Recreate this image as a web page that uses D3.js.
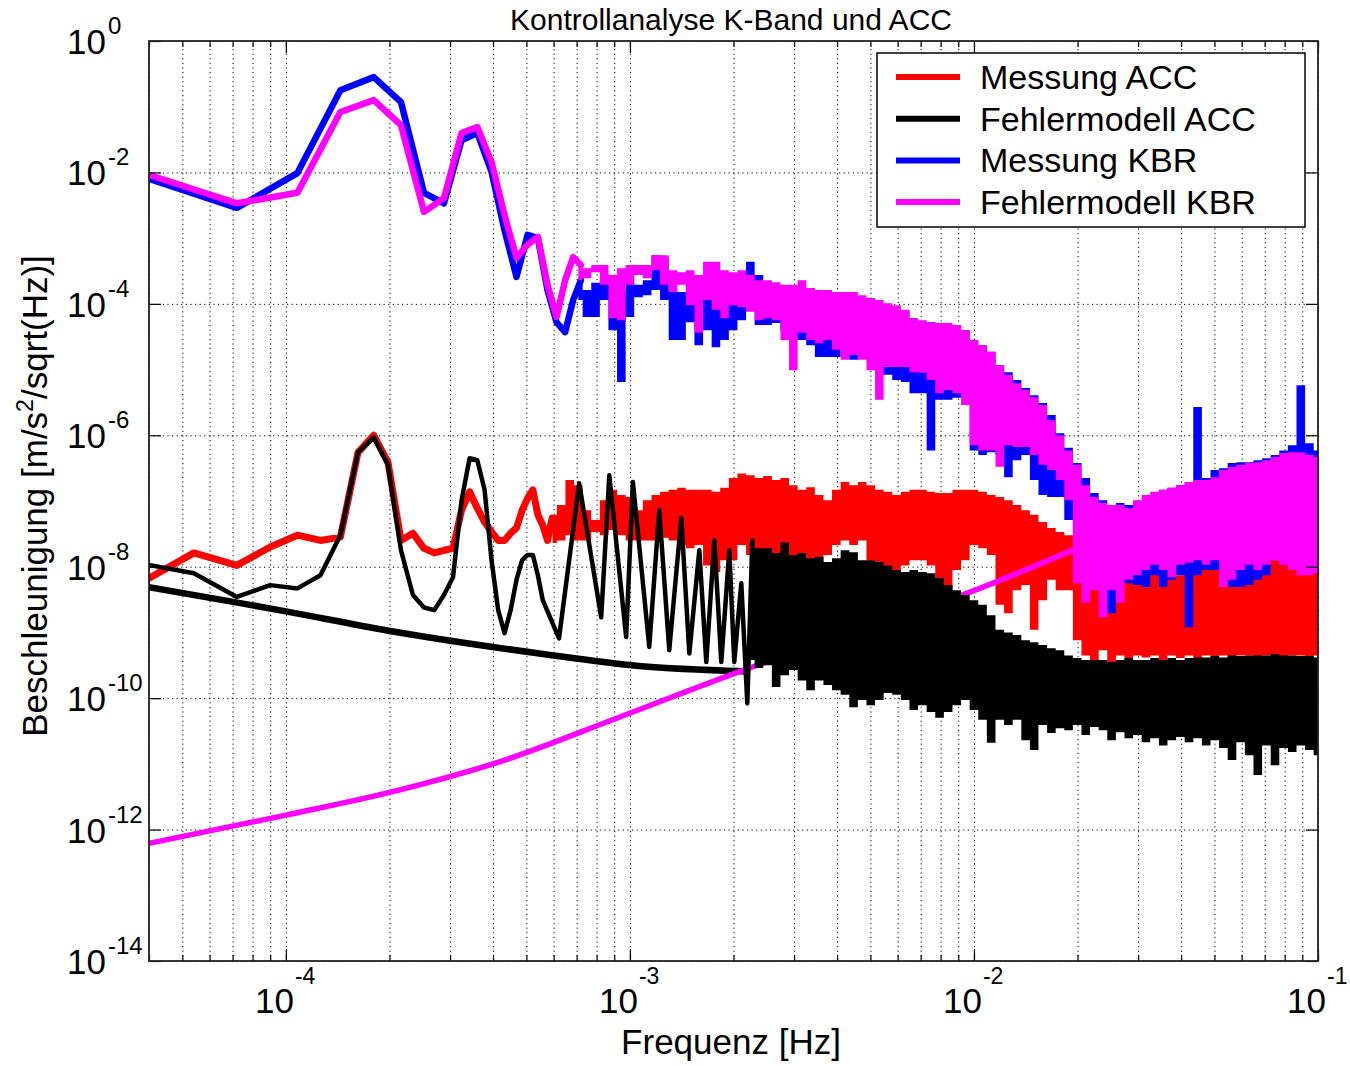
<!DOCTYPE html>
<html>
<head>
<meta charset="utf-8">
<script src="https://cdn.jsdelivr.net/npm/d3@7"></script>
<style>
  body { margin: 0; background: #fff; }
  text { font-family: "Liberation Sans", Arial, Helvetica, sans-serif; }
</style>
</head>
<body>
<svg id="chart"></svg>
<script>
// ---- data (values are log10 of acceleration in m/s^2/sqrt(Hz)) ----

// ACC frequency grid at low frequencies [Hz]
const accFreqLow = [3.6e-5, 5.4e-5, 7.2e-5, 9.0e-5, 1.08e-4, 1.26e-4, 1.44e-4, 1.62e-4, 1.80e-4, 1.98e-4,
  2.16e-4, 2.34e-4, 2.52e-4, 2.70e-4, 2.88e-4, 3.06e-4, 3.24e-4, 3.42e-4, 3.60e-4, 3.78e-4,
  3.96e-4, 4.14e-4, 4.32e-4, 4.50e-4, 4.68e-4, 4.86e-4, 5.04e-4, 5.22e-4, 5.40e-4, 5.58e-4,
  5.76e-4, 5.94e-4];
// Messung ACC, low frequencies
const accMeasLow = [-8.31, -7.79, -7.98, -7.70, -7.52, -7.60, -7.55, -6.26, -6.00, -6.41,
  -7.60, -7.49, -7.72, -7.79, -7.75, -7.72, -7.14, -6.86, -7.11, -7.32,
  -7.47, -7.60, -7.60, -7.49, -7.41, -7.14, -6.96, -6.83, -7.21, -7.37,
  -7.60, -7.26];

// Fehlermodell ACC, low frequencies (grid, then peaks and troughs)
const accModelFreqLow = [3.6e-5, 5.4e-5, 7.2e-5, 9.0e-5, 1.08e-4, 1.26e-4, 1.44e-4, 1.62e-4, 1.80e-4, 1.98e-4,
  2.16e-4, 2.34e-4, 2.52e-4, 2.70e-4, 2.88e-4, 3.06e-4, 3.24e-4, 3.42e-4, 3.60e-4, 3.78e-4,
  3.96e-4, 4.14e-4, 4.32e-4, 4.50e-4, 4.68e-4, 4.86e-4, 5.04e-4, 5.22e-4, 5.40e-4, 5.58e-4,
  6.22e-4, 7.12e-4, 8.25e-4, 8.71e-4, 9.75e-4, 1.02e-3, 1.138e-3, 1.217e-3, 1.301e-3, 1.41e-3,
  1.488e-3, 1.591e-3, 1.667e-3, 1.759e-3, 1.843e-3, 1.945e-3, 2.01e-3, 2.107e-3, 2.194e-3, 2.268e-3];
const accModelLow = [-7.93, -8.10, -8.46, -8.28, -8.33, -8.13, -7.52, -6.26, -6.03, -6.45,
  -7.75, -8.43, -8.62, -8.66, -8.43, -8.16, -6.99, -6.35, -6.38, -6.83,
  -7.90, -8.66, -9.01, -8.66, -8.20, -7.90, -7.82, -7.82, -8.13, -8.51,
  -9.09, -6.73, -8.77, -6.61, -9.07, -6.71, -9.22, -7.14, -9.27, -7.26,
  -9.32, -7.75, -9.45, -7.60, -9.45, -7.75, -9.45, -8.25, -10.08, -7.60];

// ACC noise model (smooth black curve)
const accNoiseFreq = [4e-5, 7.3e-5, 1e-4, 1.97e-4, 5.45e-4, 1.06e-3, 2.15e-3];
const accNoise = [-8.31, -8.55, -8.68, -8.97, -9.32, -9.51, -9.59];

// KBR frequency grid at low frequencies [Hz]
const kbrFreqLow = [3.6e-5, 7.2e-5, 1.08e-4, 1.44e-4, 1.8e-4, 2.16e-4, 2.52e-4, 2.88e-4, 3.24e-4, 3.6e-4,
  3.96e-4, 4.32e-4, 4.68e-4, 5.04e-4, 5.4e-4, 5.76e-4, 6.12e-4, 6.48e-4, 6.84e-4, 7.2e-4];
const kbrMeasLow = [-2.02, -2.54, -2.01, -0.75, -0.55, -0.93, -2.31, -2.47, -1.51, -1.40,
  -1.99, -2.88, -3.59, -2.95, -3.00, -3.79, -4.28, -4.43, -3.94, -3.64];
const kbrModelLow = [-1.96, -2.47, -2.31, -1.08, -0.90, -1.28, -2.60, -2.39, -1.40, -1.31,
  -1.84, -2.65, -3.30, -3.10, -2.98, -3.71, -4.20, -3.64, -3.29, -3.41];

// KBR noise model (smooth magenta curve)
const kbrNoiseFreq = [4e-5, 1e-4, 2.13e-4, 4.17e-4, 9.31e-4, 2.15e-3, 4.97e-3, 9.7e-3, 1.99e-2];
const kbrNoise = [-12.21, -11.78, -11.40, -10.97, -10.29, -9.57, -8.92, -8.39, -7.72];

// dense part: frequency bins [Hz] with max / min of each series in the bin
const bandFreq = [
  5.623e-4, 5.957e-4, 6.310e-4, 6.683e-4, 7.079e-4, 7.499e-4, 7.943e-4, 8.414e-4, 8.913e-4, 9.441e-4,
  1.000e-3, 1.059e-3, 1.122e-3, 1.189e-3, 1.259e-3, 1.334e-3, 1.413e-3, 1.496e-3, 1.585e-3, 1.679e-3,
  1.778e-3, 1.884e-3, 1.995e-3, 2.113e-3, 2.239e-3, 2.371e-3, 2.512e-3, 2.661e-3, 2.818e-3, 2.985e-3,
  3.162e-3, 3.350e-3, 3.548e-3, 3.758e-3, 3.981e-3, 4.217e-3, 4.467e-3, 4.732e-3, 5.012e-3, 5.309e-3,
  5.623e-3, 5.957e-3, 6.310e-3, 6.683e-3, 7.079e-3, 7.499e-3, 7.943e-3, 8.414e-3, 8.913e-3, 9.441e-3,
  1.000e-2, 1.059e-2, 1.122e-2, 1.189e-2, 1.259e-2, 1.334e-2, 1.413e-2, 1.496e-2, 1.585e-2, 1.679e-2,
  1.778e-2, 1.884e-2, 1.995e-2, 2.113e-2, 2.239e-2, 2.371e-2, 2.512e-2, 2.661e-2, 2.818e-2, 2.985e-2,
  3.162e-2, 3.350e-2, 3.548e-2, 3.758e-2, 3.981e-2, 4.217e-2, 4.467e-2, 4.732e-2, 5.012e-2, 5.309e-2,
  5.623e-2, 5.957e-2, 6.310e-2, 6.683e-2, 7.079e-2, 7.499e-2, 7.943e-2, 8.414e-2, 8.913e-2, 9.441e-2,
  1.000e-1];

const accMeasHi = [
  null, -7.21, -7.06, -6.68, -6.76, -7.14, -7.29, -6.99, -6.83, -6.91,
  -6.94, -7.14, -6.99, -6.91, -6.86, -6.83, -6.80, -6.83, -6.83, -6.83,
  -6.86, -6.80, -6.65, -6.58, -6.61, -6.65, -6.62, -6.68, -6.65, -6.76,
  -6.83, -6.79, -6.91, -6.99, -6.83, -6.71, -6.76, -6.71, -6.76, -6.83,
  -6.86, -6.91, -6.86, -6.83, -6.83, -6.86, -6.88, -6.88, -6.83, -6.83,
  -6.83, -6.86, -6.91, -6.94, -6.99, -7.06, -7.14, -7.21, -7.32, -7.41,
  -7.47, -7.52, -7.60, -7.90, -7.95, -7.98, -7.98, -8.01, -7.98, -8.02,
  -8.05, -8.05, -8.13, -8.13, -8.13, -8.05, -8.02, -8.01, -7.95, -7.90,
  -7.90, -7.87, -7.87, -7.90, -7.90, -7.90, -7.90, -7.90, -7.93, -7.93,
  -7.95];
const accMeasLo = [
  null, -7.64, -7.60, -7.52, -7.60, -7.60, -7.47, -7.52, -7.44, -7.52,
  -7.60, -7.60, -7.60, -7.60, -7.56, -7.60, -7.67, -7.72, -7.67, -7.98,
  -8.08, -7.90, -7.90, -7.67, -7.82, -7.82, -7.90, -7.90, -8.05, -8.13,
  -7.82, -7.90, -7.98, -7.82, -7.67, -7.60, -7.67, -7.60, -7.90, -8.05,
  -8.20, -8.13, -7.98, -7.90, -7.90, -7.98, -8.20, -8.46, -8.05, -7.90,
  -7.67, -7.72, -7.82, -8.58, -8.71, -8.36, -8.28, -8.96, -8.51, -8.20,
  -8.36, -8.36, -9.12, -9.35, -9.42, -9.27, -9.50, -9.35, -9.53, -9.35,
  -9.38, -9.35, -9.42, -9.35, -9.39, -9.35, -9.42, -9.35, -9.39, -9.35,
  -9.42, -9.35, -9.35, -9.42, -9.35, -9.35, -9.38, -9.35, -9.35, -9.38,
  -9.35];

const accModelHi = [
  null, null, null, null, null, null, null, null, null, null,
  null, null, null, null, null, null, null, null, null, null,
  null, null, null, null, -7.60, -7.72, -7.72, -7.79, -7.63, -7.82,
  -7.79, -7.87, -7.85, -7.93, -7.87, -7.75, -7.78, -7.90, -7.90, -7.93,
  -7.98, -8.05, -8.08, -8.05, -8.08, -8.10, -8.17, -8.28, -8.36, -8.43,
  -8.51, -8.58, -8.74, -8.96, -9.00, -9.04, -9.12, -9.15, -9.19, -9.24,
  -9.27, -9.35, -9.39, -9.42, -9.42, -9.42, -9.45, -9.42, -9.39, -9.42,
  -9.42, -9.39, -9.42, -9.39, -9.42, -9.39, -9.38, -9.38, -9.36, -9.38,
  -9.35, -9.36, -9.35, -9.35, -9.35, -9.33, -9.35, -9.35, -9.36, -9.36,
  -9.38];
const accModelLo = [
  null, null, null, null, null, null, null, null, null, null,
  null, null, null, null, null, null, null, null, null, null,
  null, null, null, null, -9.42, -9.54, -9.50, -9.83, -9.65, -9.57,
  -9.73, -9.88, -9.73, -9.80, -9.88, -9.95, -10.14, -10.03, -10.11, -10.03,
  -9.92, -9.95, -10.03, -10.18, -10.11, -10.21, -10.30, -10.21, -10.11, -10.03,
  -10.18, -10.33, -10.68, -10.33, -10.41, -10.33, -10.64, -10.79, -10.41, -10.53,
  -10.46, -10.49, -10.41, -10.56, -10.44, -10.49, -10.64, -10.52, -10.61, -10.56,
  -10.67, -10.61, -10.72, -10.64, -10.59, -10.67, -10.61, -10.72, -10.64, -10.76,
  -10.94, -10.67, -10.87, -11.17, -10.72, -11.02, -10.76, -10.82, -10.72, -10.79,
  -10.87];

const kbrMeasHi = [
  null, null, null, null, -3.64, -3.79, -3.68, -3.64, -3.71, -3.79,
  -3.67, -3.71, -3.64, -3.26, -3.29, -3.79, -3.82, -3.87, -3.94, -3.79,
  -3.94, -3.94, -3.64, -3.64, -3.36, -3.56, -3.68, -3.71, -3.79, -3.87,
  -3.79, -3.84, -3.87, -3.87, -3.87, -3.94, -3.94, -3.94, -4.02, -4.02,
  -4.02, -4.09, -4.12, -4.22, -4.28, -4.28, -4.32, -4.32, -4.32, -4.40,
  -4.55, -4.63, -4.73, -4.93, -5.04, -5.16, -5.28, -5.39, -5.51, -5.69,
  -5.97, -6.19, -6.42, -6.65, -6.88, -6.99, -7.06, -7.03, -7.06, -7.06,
  -6.99, -6.91, -6.83, -6.80, -6.76, -6.71, -5.57, -6.65, -6.53, -6.50,
  -6.42, -6.41, -6.41, -6.38, -6.35, -6.30, -6.23, -6.15, -5.24, -6.12,
  -6.23];
const kbrMeasLo = [
  null, null, null, null, -3.94, -4.20, -4.20, -3.94, -4.40, -5.19,
  -4.20, -3.90, -3.87, -3.79, -3.94, -4.55, -4.55, -4.28, -4.63, -4.40,
  -4.66, -4.55, -4.40, -4.25, -3.94, -4.32, -4.32, -4.29, -4.40, -4.55,
  -4.55, -4.63, -4.81, -4.81, -4.81, -4.70, -4.85, -4.78, -4.85, -5.08,
  -5.08, -5.16, -5.19, -5.36, -5.36, -6.23, -5.46, -5.46, -5.43, -5.43,
  -6.23, -6.30, -6.26, -6.30, -6.64, -6.38, -6.30, -6.68, -6.91, -6.94,
  -6.94, -7.29, -7.60, -8.01, -8.05, -8.36, -8.71, -8.28, -8.25, -8.28,
  -8.31, -8.13, -8.31, -8.20, -8.13, -8.92, -8.13, -8.05, -8.05, -8.20,
  -8.31, -8.31, -8.28, -8.20, -8.13, -7.90, -7.97, -8.05, -8.05, -8.05,
  -8.05];

const kbrModelHi = [
  null, null, null, null, -3.41, -3.46, -3.41, -3.41, -3.56, -3.46,
  -3.41, -3.41, -3.41, -3.26, -3.26, -3.49, -3.52, -3.49, -3.56, -3.36,
  -3.36, -3.49, -3.52, -3.49, -3.56, -3.64, -3.64, -3.67, -3.71, -3.71,
  -3.64, -3.76, -3.79, -3.79, -3.82, -3.82, -3.82, -3.87, -3.91, -3.94,
  -3.99, -4.02, -4.09, -4.22, -4.25, -4.28, -4.29, -4.29, -4.32, -4.40,
  -4.55, -4.63, -4.73, -4.93, -5.08, -5.21, -5.31, -5.42, -5.54, -5.77,
  -6.00, -6.23, -6.45, -6.76, -6.94, -7.03, -7.06, -7.06, -7.11, -6.99,
  -6.91, -6.86, -6.83, -6.80, -6.76, -6.71, -6.68, -6.68, -6.64, -6.53,
  -6.48, -6.45, -6.42, -6.41, -6.38, -6.33, -6.27, -6.26, -6.26, -6.30,
  -6.33];
const kbrModelLo = [
  null, null, null, null, -3.64, -3.61, -3.52, -3.71, -4.22, -4.25,
  -3.71, -3.56, -3.61, -3.49, -3.71, -3.82, -3.71, -4.02, -4.44, -3.94,
  -4.09, -4.22, -4.02, -4.05, -4.12, -4.25, -4.22, -4.25, -4.55, -5.01,
  -4.44, -4.55, -4.60, -4.55, -4.70, -4.85, -4.78, -4.85, -5.01, -5.46,
  -4.96, -4.96, -4.96, -5.04, -5.05, -5.16, -5.36, -5.31, -5.36, -5.54,
  -6.15, -6.23, -6.23, -6.48, -6.15, -6.18, -6.18, -6.30, -6.45, -6.53,
  -6.68, -6.99, -8.25, -8.55, -8.36, -8.77, -8.36, -8.55, -8.20, -8.13,
  -8.05, -7.97, -8.05, -8.16, -7.97, -7.94, -7.90, -7.97, -7.90, -8.31,
  -8.20, -8.05, -7.97, -8.05, -7.97, -7.90, -7.97, -8.05, -8.13, -8.13,
  -8.10];

// axes
const xMajor = [1e-4, 1e-3, 1e-2, 1e-1];
const xMajorExp = ["-4", "-3", "-2", "-1"];
const yMajor = [1e0, 1e-2, 1e-4, 1e-6, 1e-8, 1e-10, 1e-12, 1e-14];
const yMajorExp = ["0", "-2", "-4", "-6", "-8", "-10", "-12", "-14"];

const legendNames = ["Messung ACC", "Fehlermodell ACC", "Messung KBR", "Fehlermodell KBR"];
const legendColors = ["#ff0000", "#000000", "#0000ff", "#ff00ff"];

// ---- drawing ----
const width = 1350, height = 1066;
const plot = { left: 149, right: 1318, top: 41, bottom: 961 };

const svg = d3.select("#chart").attr("width", width).attr("height", height);
svg.append("rect").attr("width", width).attr("height", height).attr("fill", "white");

const x = d3.scaleLog().domain([4e-5, 1e-1]).range([plot.left, plot.right]);
const y = d3.scaleLog().domain([1e-14, 1]).range([plot.bottom, plot.top]);

svg.append("defs").append("clipPath").attr("id", "plot-clip")
  .append("rect")
  .attr("x", plot.left).attr("y", plot.top)
  .attr("width", plot.right - plot.left).attr("height", plot.bottom - plot.top);

// dotted grid
const gridX = svg.append("g")
  .attr("transform", `translate(0,${plot.bottom})`)
  .call(d3.axisBottom(x).tickValues(x.ticks()).tickSize(-(plot.bottom - plot.top)).tickFormat(""));
const gridY = svg.append("g")
  .attr("transform", `translate(${plot.left},0)`)
  .call(d3.axisLeft(y).tickValues(yMajor).tickSize(-(plot.right - plot.left)).tickFormat(""));
[gridX, gridY].forEach((g) => {
  g.select(".domain").remove();
  g.selectAll("line").attr("stroke", "#000").attr("stroke-width", 1).attr("stroke-dasharray", "1.2,3.4");
});

const plotG = svg.append("g").attr("clip-path", "url(#plot-clip)");

const lineGen = d3.line().x((d) => x(d.f)).y((d) => y(10 ** d.v));
const smoothGen = d3.line().x((d) => x(d.f)).y((d) => y(10 ** d.v)).curve(d3.curveMonotoneX);
const bandGen = d3.area()
  .defined((d) => d.hi != null)
  .x((d) => x(d.f))
  .y0((d) => y(10 ** d.lo))
  .y1((d) => y(10 ** d.hi))
  .curve(d3.curveStep);

function pairs(freq, vals) {
  return freq.map((f, i) => ({ f, v: vals[i] }));
}

function drawLine(freq, vals, color, w, gen) {
  plotG.append("path")
    .attr("d", (gen || lineGen)(pairs(freq, vals)))
    .attr("fill", "none")
    .attr("stroke", color)
    .attr("stroke-width", w)
    .attr("stroke-linejoin", "round")
    .attr("stroke-linecap", "round");
}

function drawBand(hi, lo, color) {
  const rows = bandFreq.map((f, i) => ({ f, hi: hi[i], lo: lo[i] }));
  plotG.append("path").attr("d", bandGen(rows)).attr("fill", color);
}

// Messung ACC
drawLine(accFreqLow, accMeasLow, "#ff0000", 7);
drawBand(accMeasHi, accMeasLo, "#ff0000");
// noise models
drawLine(accNoiseFreq, accNoise, "#000000", 6.5, smoothGen);
drawLine(kbrNoiseFreq, kbrNoise, "#ff00ff", 5.5, smoothGen);
// Fehlermodell ACC
drawLine(accModelFreqLow, accModelLow, "#000000", 4.5);
drawBand(accModelHi, accModelLo, "#000000");
// Messung KBR
drawLine(kbrFreqLow, kbrMeasLow, "#0000ff", 6.5);
drawBand(kbrMeasHi, kbrMeasLo, "#0000ff");
// Fehlermodell KBR
drawLine(kbrFreqLow, kbrModelLow, "#ff00ff", 6.5);
drawBand(kbrModelHi, kbrModelLo, "#ff00ff");

// ticks (inward, on all four sides)
function tickAxis(axis, transform) {
  const g = svg.append("g").attr("transform", transform).call(axis);
  g.select(".domain").remove();
  g.selectAll("line").attr("stroke", "#000").attr("stroke-width", 1.2);
}
tickAxis(d3.axisBottom(x).tickValues(x.ticks()).tickSize(-6).tickFormat(""), `translate(0,${plot.bottom})`);
tickAxis(d3.axisBottom(x).tickValues(xMajor).tickSize(-12).tickFormat(""), `translate(0,${plot.bottom})`);
tickAxis(d3.axisTop(x).tickValues(x.ticks()).tickSize(-6).tickFormat(""), `translate(0,${plot.top})`);
tickAxis(d3.axisTop(x).tickValues(xMajor).tickSize(-12).tickFormat(""), `translate(0,${plot.top})`);
tickAxis(d3.axisLeft(y).tickValues(yMajor).tickSize(-12).tickFormat(""), `translate(${plot.left},0)`);
tickAxis(d3.axisRight(y).tickValues(yMajor).tickSize(-12).tickFormat(""), `translate(${plot.right},0)`);

svg.append("rect")
  .attr("x", plot.left).attr("y", plot.top)
  .attr("width", plot.right - plot.left).attr("height", plot.bottom - plot.top)
  .attr("fill", "none").attr("stroke", "#222").attr("stroke-width", 1.8);

// tick labels: 10 with superscript exponent
xMajor.forEach((v, i) => {
  const px = x(v);
  svg.append("text").attr("x", px + 8).attr("y", 1013)
    .attr("text-anchor", "end").attr("font-size", 35).text("10");
  svg.append("text").attr("x", px + 9).attr("y", 984)
    .attr("text-anchor", "start").attr("font-size", 23).text(xMajorExp[i]);
});
yMajor.forEach((v, i) => {
  const py = y(v);
  svg.append("text").attr("x", 106).attr("y", py + 13)
    .attr("text-anchor", "end").attr("font-size", 35).text("10");
  svg.append("text").attr("x", 108).attr("y", py - 7)
    .attr("text-anchor", "start").attr("font-size", 24).text(yMajorExp[i]);
});

// axis titles
svg.append("text").attr("x", 731).attr("y", 1054)
  .attr("text-anchor", "middle").attr("font-size", 35).text("Frequenz [Hz]");

const yTitle = svg.append("text")
  .attr("transform", "translate(47,496) rotate(-90)")
  .attr("text-anchor", "middle").attr("font-size", 35);
yTitle.append("tspan").text("Beschleunigung [m/s");
yTitle.append("tspan").attr("font-size", 23).attr("dy", -14).text("2");
yTitle.append("tspan").attr("dy", 14).text("/sqrt(Hz)]");

// title
svg.append("text").attr("x", 731).attr("y", 30)
  .attr("text-anchor", "middle").attr("font-size", 30).text("Kontrollanalyse K-Band und ACC");

// legend
const legend = svg.append("g");
legend.append("rect")
  .attr("x", 877).attr("y", 53).attr("width", 428).attr("height", 174)
  .attr("fill", "white").attr("stroke", "#000").attr("stroke-width", 1.5);
legendNames.forEach((name, i) => {
  const ly = 77 + i * 41.7;
  legend.append("line")
    .attr("x1", 896).attr("x2", 960).attr("y1", ly).attr("y2", ly)
    .attr("stroke", legendColors[i]).attr("stroke-width", 6);
  legend.append("text").attr("x", 980).attr("y", ly + 12)
    .attr("font-size", 34).text(name);
});
</script>
</body>
</html>
